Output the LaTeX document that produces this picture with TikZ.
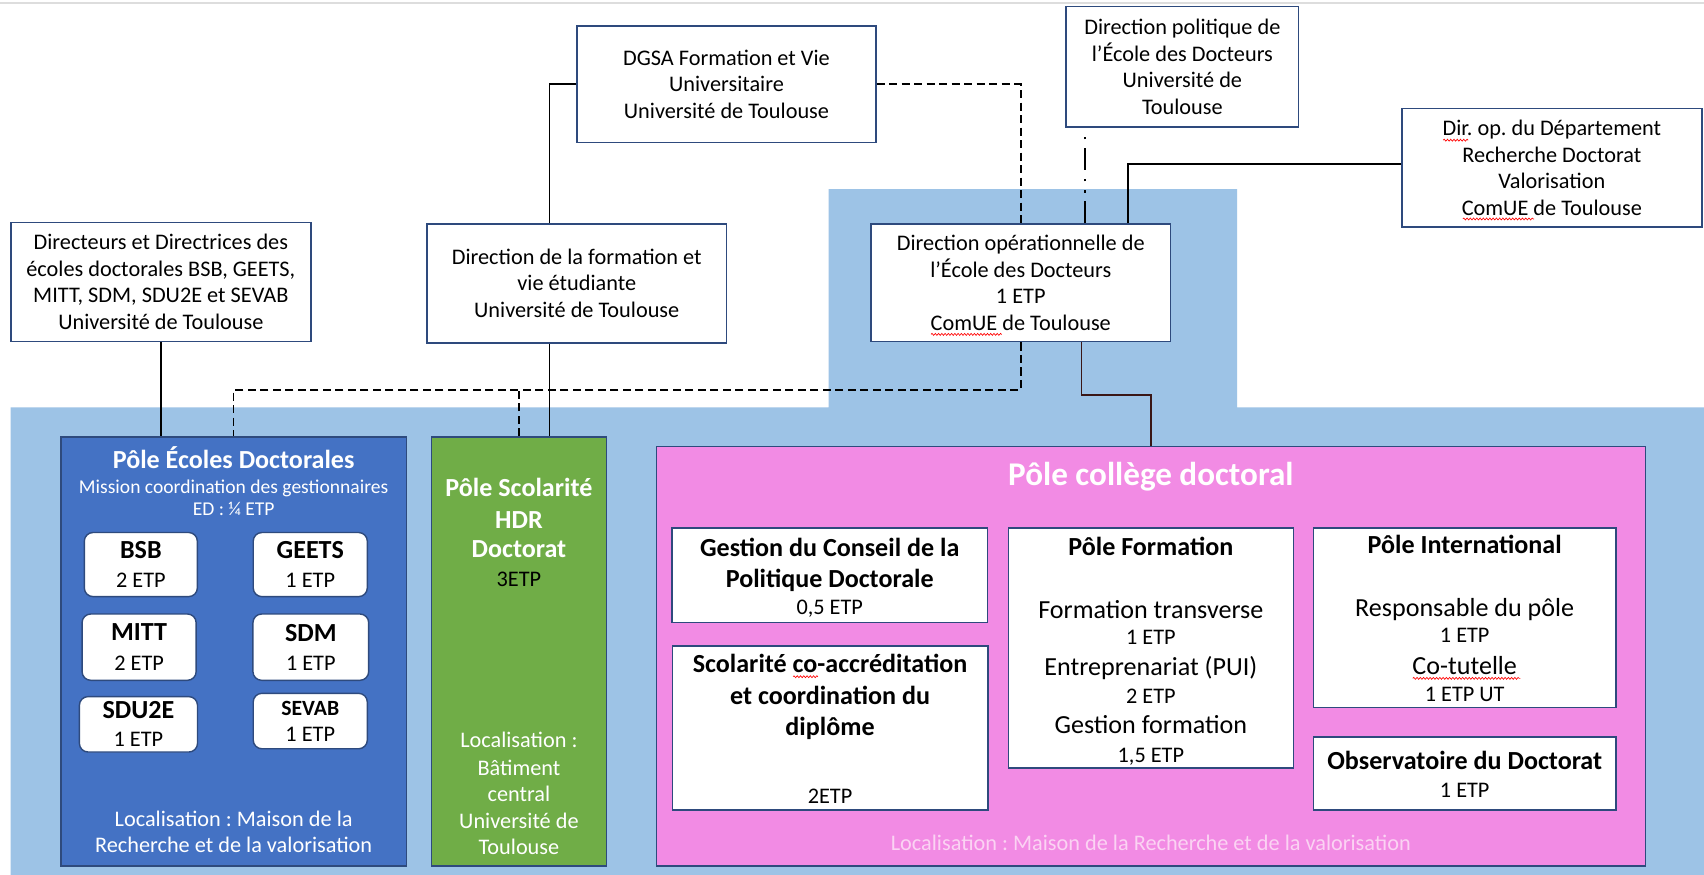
\documentclass[tikz,border=0pt]{standalone}
\usepackage{fontspec}
\setmainfont{Carlito}
\frenchspacing
\usetikzlibrary{calc,decorations.pathmorphing}
\definecolor{bgblue}{HTML}{9DC3E6}
\definecolor{ecblue}{HTML}{4472C4}
\definecolor{scgreen}{HTML}{70AD47}
\definecolor{cpink}{HTML}{F28BE4}
\definecolor{navy}{HTML}{2E4A7D}
\definecolor{palepink}{HTML}{FBD3F3}
\definecolor{topgray}{HTML}{DDDDDD}
\definecolor{darkline}{HTML}{3A1616}
\tikzset{
  topbox/.style={draw=navy, line width=1.3pt, fill=white, align=center, inner sep=0pt, font=\fontsize{20.5}{24.5}\selectfont},
  cont/.style={draw=navy, line width=1.3pt, inner sep=0pt},
  edbox/.style={draw=navy, line width=1.3pt, fill=white, rounded corners=8pt, align=center, inner sep=0pt, font=\fontsize{20.5}{27}\selectfont},
  wbox/.style={draw=navy, line width=1.3pt, fill=white, inner sep=0pt},
  txtr/.style={anchor=base, inner sep=0pt, font=\fontsize{20.5}{24.5}\selectfont},
  txts/.style={anchor=base, inner sep=0pt, font=\fontsize{18}{22}\selectfont},
  txtm/.style={anchor=base, inner sep=0pt, font=\fontsize{24}{29}\selectfont},
  txtb/.style={anchor=base, inner sep=0pt, font=\fontsize{24}{29}\selectfont\bfseries},
  link/.style={line width=1.5pt, draw=black},
  dlink/.style={link, dash pattern=on 7.5pt off 4pt},
  ddlink/.style={line width=2.2pt, draw=black, dash pattern=on 20pt off 8pt on 2.5pt off 8pt on 2.5pt off 8pt},
  spell/.style={draw=red, line width=0.6pt, decorate, decoration={snake, amplitude=0.9pt, segment length=3pt}}
}
\begin{document}
\begin{tikzpicture}[x=1pt,y=-1pt]
\useasboundingbox (0,0) rectangle (1568,805);
\fill[white] (0,0) rectangle (1568,805);
\draw[topgray, line width=2pt] (0,3) -- (1568,3);
% light blue background
\fill[bgblue] (762.4,174) -- (1138.3,174) -- (1138.3,374.8) -- (1568,374.8) -- (1568,805)
  -- (9.7,805) -- (9.7,374.8) -- (762.4,374.8) -- cycle;

% top boxes
\node[topbox, minimum width=275pt, minimum height=107pt] (dgsa) at (668.5,77.5)
  {DGSA Formation et Vie\\Universitaire\\Université de Toulouse};
\node[topbox, minimum width=214pt, minimum height=111pt] (dpol) at (1088,61.5)
  {Direction politique de\\l’École des Docteurs\\Université de\\Toulouse};
\node[topbox, minimum width=276pt, minimum height=109pt] (ddep) at (1428,154.5)
  {Dir. op. du Département\\Recherche Doctorat\\Valorisation\\ComUE de Toulouse};
\node[topbox, minimum width=276pt, minimum height=109pt] (dir) at (148,259.5)
  {Directeurs et Directrices des\\écoles doctorales BSB, GEETS,\\MITT, SDM, SDU2E et SEVAB\\Université de Toulouse};
\node[topbox, minimum width=275.5pt, minimum height=109.5pt] (dfve) at (530.7,260.7)
  {Direction de la formation et\\vie étudiante\\Université de Toulouse};
\node[topbox, minimum width=275.5pt, minimum height=108.4pt] (dop) at (939.3,260.2)
  {Direction opérationnelle de\\l’École des Docteurs\\1 ETP\\ComUE de Toulouse};

% containers
\node[cont, fill=ecblue, minimum width=318pt, minimum height=395pt] (ecoles) at (215,599.5) {};
\node[cont, fill=scgreen, minimum width=161pt, minimum height=395pt] (scol) at (477.5,599.5) {};
\node[cont, fill=cpink, minimum width=910pt, minimum height=386pt] (college) at (1059,604) {};

% Pole Ecoles Doctorales
\node[txtb, text=white] (ec1) at (215,431.2) {Pôle Écoles Doctorales};
\node[txts, text=white] (ec2) at (215,454.4) {Mission coordination des gestionnaires};
\node[txts, text=white] (ec3) at (215,474.6) {ED : ¼ ETP};
\node[txtr, text=white] (ec4) at (215,760.2) {Localisation : Maison de la};
\node[txtr, text=white] (ec5) at (215,784.2) {Recherche et de la valorisation};
\node[edbox, minimum width=104pt, minimum height=59pt] (bsb) at (129.6,519.5)
  {{\fontsize{24}{27}\selectfont\bfseries BSB}\\2 ETP};
\node[edbox, minimum width=105pt, minimum height=59pt] (geets) at (285.5,519.5)
  {{\fontsize{24}{27}\selectfont\bfseries GEETS}\\1 ETP};
\node[edbox, minimum width=105pt, minimum height=61pt] (mitt) at (128,595.5)
  {{\fontsize{24}{27}\selectfont\bfseries MITT}\\2 ETP};
\node[edbox, minimum width=106.5pt, minimum height=61pt] (sdm) at (286,595.5)
  {{\fontsize{24}{27}\selectfont\bfseries SDM}\\1 ETP};
\node[edbox, minimum width=108.7pt, minimum height=51pt, font=\fontsize{20.5}{26}\selectfont] (sdu2e) at (127.4,666.5)
  {{\fontsize{24}{26}\selectfont\bfseries SDU2E}\\1 ETP};
\node[edbox, minimum width=105pt, minimum height=51pt, font=\fontsize{20.5}{24}\selectfont] (sevab) at (285.5,663.5)
  {{\fontsize{20}{24}\selectfont\bfseries SEVAB}\\1 ETP};

% Pole Scolarite
\node[txtb, text=white] (sc1) at (477.5,457.2) {Pôle Scolarité};
\node[txtb, text=white] (sc2) at (477.5,486.2) {HDR};
\node[txtb, text=white] (sc3) at (477.5,513.2) {Doctorat};
\node[txtr, text=black] (sc4) at (477.5,539.6) {3ETP};
\node[txtr, text=white] (sc5) at (477.5,687.8) {Localisation :};
\node[txtr, text=white] (sc6) at (477.5,713.9) {Bâtiment};
\node[txtr, text=white] (sc7) at (477.5,737.8) {central};
\node[txtr, text=white] (sc8) at (477.5,762.2) {Université de};
\node[txtr, text=white] (sc9) at (477.5,786.2) {Toulouse};

% Pole college doctoral
\node[anchor=base, inner sep=0pt, font=\fontsize{30.5}{36}\selectfont\bfseries, text=white] (co1) at (1059,446.5) {Pôle collège doctoral};
\node[txtr, text=palepink] (co2) at (1059,782.2) {Localisation : Maison de la Recherche et de la valorisation};

\node[wbox, minimum width=290pt, minimum height=87pt] (gcp) at (763.5,529.5) {};
\node[txtb] (gcp1) at (763.5,511.8) {Gestion du Conseil de la};
\node[txtb] (gcp2) at (763.5,541) {Politique Doctorale};
\node[txtr] (gcp3) at (763.5,565.2) {0,5 ETP};

\node[wbox, minimum width=290.5pt, minimum height=151pt] (sca) at (763.8,670) {};
\node[txtb] (sca1) at (763.8,618.5) {Scolarité co-accréditation};
\node[txtb] (sca2) at (763.8,648.2) {et coordination du};
\node[txtb] (sca3) at (763.8,676.5) {diplôme};
\node[txtr] (sca4) at (763.8,739.6) {2ETP};

\node[wbox, minimum width=262pt, minimum height=220.7pt] (pform) at (1059,596.3) {};
\node[txtb] (pf1) at (1059,511.2) {Pôle Formation};
\node[txtm] (pf2) at (1059,569.2) {Formation transverse};
\node[txtr] (pf3) at (1059,592.6) {1 ETP};
\node[txtm] (pf4) at (1059,622) {Entreprenariat (PUI)};
\node[txtr] (pf5) at (1059,647.1) {2 ETP};
\node[txtm] (pf6) at (1059,675.2) {Gestion formation};
\node[txtr] (pf7) at (1059,701.4) {1,5 ETP};

\node[wbox, minimum width=278.4pt, minimum height=165pt] (pint) at (1347.8,568.5) {};
\node[txtb] (pi1) at (1347.8,509.2) {Pôle International};
\node[txtm] (pi2) at (1347.8,567.6) {Responsable du pôle};
\node[txtr] (pi3) at (1347.8,591.6) {1 ETP};
\node[txtm] (pi4) at (1347.8,620.7) {Co-tutelle};
\node[txtr] (pi5) at (1347.8,645.2) {1 ETP UT};

\node[wbox, minimum width=278.4pt, minimum height=67.4pt] (obs) at (1347.8,711.7) {};
\node[txtb] (ob1) at (1347.8,708.2) {Observatoire du Doctorat};
\node[txtr] (ob2) at (1347.8,733.6) {1 ETP};

% connectors
\draw[link] (dgsa.west) -| ([xshift=-25.1pt]dfve.north);
\draw[dlink] (dgsa.east) -| (dop.north);
\coordinate (dpolend) at ([xshift=-89.5pt,yshift=-6pt]dpol.south);
\draw[ddlink] ([xshift=59.2pt]dop.north) -- (dpolend);
\draw[link] ([yshift=3.5pt]ddep.west) -| ([xshift=98.7pt]dop.north);
\draw[link, draw=darkline] ([xshift=55.7pt]dop.south) -- ++(0,48.6) -| (college.north);
\coordinate (dsh) at ([yshift=-43.6pt]dop.south);
\draw[dlink] (dop.south) -- (dsh) -| (ecoles.north);
\draw[dlink] (scol.north) -- (scol.north |- dsh);
\draw[link] (dir.south) -- (dir.south |- ecoles.north);
\draw[link] ([xshift=-25.1pt]dfve.south) -- ([xshift=-25.1pt]dfve.south |- scol.north);

% spell-check underlines
\draw[spell] (1328,129) -- (1351,129);
\draw[spell] (1346,201.5) -- (1411.6,201.5);
\draw[spell] (856.7,307.7) -- (922,307.7);
\draw[spell] (729.7,622.7) -- (752.7,622.7);
\draw[spell] (1300,624.2) -- (1399,624.2);
\end{tikzpicture}
\end{document}
